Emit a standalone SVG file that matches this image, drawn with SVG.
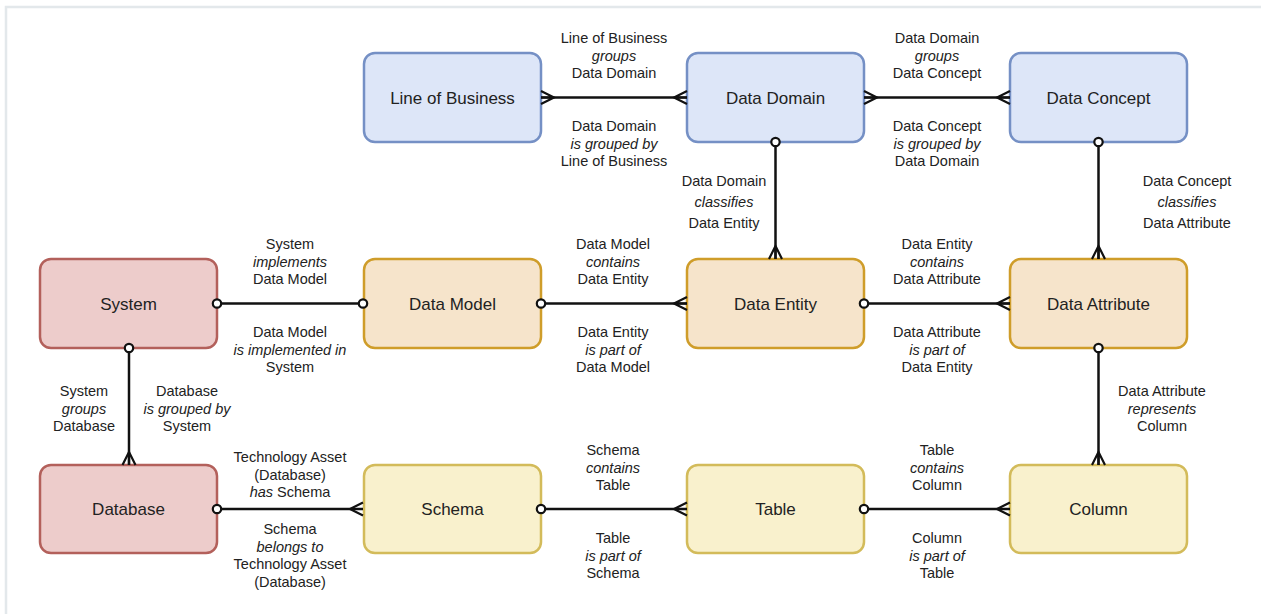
<svg xmlns="http://www.w3.org/2000/svg" width="1261" height="614" viewBox="0 0 1261 614">
<style>
.node rect{stroke-width:2.5}
.blue rect{fill:#dde6f8;stroke:#7590c5}
.red rect{fill:#edcccb;stroke:#b3605b}
.orange rect{fill:#f6e4cb;stroke:#cf9d2a}
.yellow rect{fill:#f9f1cd;stroke:#d3bb5a}
.nl{font-family:"Liberation Sans",Arial,sans-serif;font-size:17px;fill:#222;text-anchor:middle}
.el{font-family:"Liberation Sans",Arial,sans-serif;font-size:14.5px;fill:#222;text-anchor:middle}
.it{font-style:italic}
.conn path{fill:none;stroke:#111;stroke-width:2.5}
</style>
<defs>
<marker id="many" viewBox="-16 -10 20 20" refX="0" refY="0" markerWidth="20" markerHeight="20" markerUnits="userSpaceOnUse" orient="auto-start-reverse">
<path d="M0,-6.5 L-13,0 L0,6.5 M-13,0 L0,0" fill="none" stroke="#111" stroke-width="2.2"/>
</marker>
<marker id="one" viewBox="-8 -8 16 16" refX="0" refY="0" markerWidth="16" markerHeight="16" markerUnits="userSpaceOnUse" orient="auto">
<circle cx="0" cy="0" r="4.2" fill="#fff" stroke="#111" stroke-width="2.2"/>
</marker>
</defs>
<rect x="6" y="7" width="1300" height="700" fill="#fff" stroke="#e3e8eb" stroke-width="2.5"/>

<g id="lineOfBusiness" class="node blue"><rect x="364" y="53" width="177" height="89" rx="11"/><text class="nl" x="452.5" y="103.5">Line of Business</text></g>
<g id="dataDomain" class="node blue"><rect x="687" y="53" width="177" height="89" rx="11"/><text class="nl" x="775.5" y="103.5">Data Domain</text></g>
<g id="dataConcept" class="node blue"><rect x="1010" y="53" width="177" height="89" rx="11"/><text class="nl" x="1098.5" y="103.5">Data Concept</text></g>

<g id="system" class="node red"><rect x="40" y="259" width="177" height="89" rx="11"/><text class="nl" x="128.5" y="309.5">System</text></g>
<g id="dataModel" class="node orange"><rect x="364" y="259" width="177" height="89" rx="11"/><text class="nl" x="452.5" y="309.5">Data Model</text></g>
<g id="dataEntity" class="node orange"><rect x="687" y="259" width="177" height="89" rx="11"/><text class="nl" x="775.5" y="309.5">Data Entity</text></g>
<g id="dataAttribute" class="node orange"><rect x="1010" y="259" width="177" height="89" rx="11"/><text class="nl" x="1098.5" y="309.5">Data Attribute</text></g>

<g id="database" class="node red"><rect x="40" y="465" width="177" height="88" rx="11"/><text class="nl" x="128.5" y="515">Database</text></g>
<g id="schema" class="node yellow"><rect x="364" y="465" width="177" height="88" rx="11"/><text class="nl" x="452.5" y="515">Schema</text></g>
<g id="table" class="node yellow"><rect x="687" y="465" width="177" height="88" rx="11"/><text class="nl" x="775.5" y="515">Table</text></g>
<g id="column" class="node yellow"><rect x="1010" y="465" width="177" height="88" rx="11"/><text class="nl" x="1098.5" y="515">Column</text></g>

<g id="connectors" class="conn">
<path d="M541,97.5 H687" marker-start="url(#many)" marker-end="url(#many)"/>
<path d="M864,97.5 H1010" marker-start="url(#many)" marker-end="url(#many)"/>
<path d="M775.5,142 V259" marker-start="url(#one)" marker-end="url(#many)"/>
<path d="M1098.5,142 V259" marker-start="url(#one)" marker-end="url(#many)"/>
<path d="M217,303.5 H363" marker-start="url(#one)" marker-end="url(#one)"/>
<path d="M541,303.5 H687" marker-start="url(#one)" marker-end="url(#many)"/>
<path d="M864,303.5 H1010" marker-start="url(#one)" marker-end="url(#many)"/>
<path d="M129,348 V465" marker-start="url(#one)" marker-end="url(#many)"/>
<path d="M1098.5,348 V465" marker-start="url(#one)" marker-end="url(#many)"/>
<path d="M217,509 H363" marker-start="url(#one)" marker-end="url(#many)"/>
<path d="M541,509 H687" marker-start="url(#one)" marker-end="url(#many)"/>
<path d="M864,509 H1010" marker-start="url(#one)" marker-end="url(#many)"/>
</g>

<g id="labels">
<text class="el"><tspan x="614" y="43">Line of Business</tspan><tspan x="614" y="61" class="it">groups</tspan><tspan x="614" y="78">Data Domain</tspan></text>
<text class="el"><tspan x="614" y="131">Data Domain</tspan><tspan x="614" y="149" class="it">is grouped by</tspan><tspan x="614" y="166">Line of Business</tspan></text>
<text class="el"><tspan x="937" y="43">Data Domain</tspan><tspan x="937" y="61" class="it">groups</tspan><tspan x="937" y="78">Data Concept</tspan></text>
<text class="el"><tspan x="937" y="131">Data Concept</tspan><tspan x="937" y="149" class="it">is grouped by</tspan><tspan x="937" y="166">Data Domain</tspan></text>
<text class="el"><tspan x="724" y="186">Data Domain</tspan><tspan x="724" y="207" class="it">classifies</tspan><tspan x="724" y="228">Data Entity</tspan></text>
<text class="el"><tspan x="1187" y="186">Data Concept</tspan><tspan x="1187" y="207" class="it">classifies</tspan><tspan x="1187" y="228">Data Attribute</tspan></text>

<text class="el"><tspan x="290" y="249">System</tspan><tspan x="290" y="267" class="it">implements</tspan><tspan x="290" y="284">Data Model</tspan></text>
<text class="el"><tspan x="290" y="337">Data Model</tspan><tspan x="290" y="355" class="it">is implemented in</tspan><tspan x="290" y="372">System</tspan></text>
<text class="el"><tspan x="613" y="249">Data Model</tspan><tspan x="613" y="267" class="it">contains</tspan><tspan x="613" y="284">Data Entity</tspan></text>
<text class="el"><tspan x="613" y="337">Data Entity</tspan><tspan x="613" y="355" class="it">is part of</tspan><tspan x="613" y="372">Data Model</tspan></text>
<text class="el"><tspan x="937" y="249">Data Entity</tspan><tspan x="937" y="267" class="it">contains</tspan><tspan x="937" y="284">Data Attribute</tspan></text>
<text class="el"><tspan x="937" y="337">Data Attribute</tspan><tspan x="937" y="355" class="it">is part of</tspan><tspan x="937" y="372">Data Entity</tspan></text>

<text class="el"><tspan x="84" y="396">System</tspan><tspan x="84" y="414" class="it">groups</tspan><tspan x="84" y="431">Database</tspan></text>
<text class="el"><tspan x="187" y="396">Database</tspan><tspan x="187" y="414" class="it">is grouped by</tspan><tspan x="187" y="431">System</tspan></text>
<text class="el"><tspan x="1162" y="396">Data Attribute</tspan><tspan x="1162" y="414" class="it">represents</tspan><tspan x="1162" y="431">Column</tspan></text>

<text class="el"><tspan x="290" y="462">Technology Asset</tspan><tspan x="290" y="480">(Database)</tspan><tspan x="290" y="497"><tspan class="it">has</tspan> Schema</tspan></text>
<text class="el"><tspan x="290" y="534">Schema</tspan><tspan x="290" y="552" class="it">belongs to</tspan><tspan x="290" y="569">Technology Asset</tspan><tspan x="290" y="587">(Database)</tspan></text>
<text class="el"><tspan x="613" y="455">Schema</tspan><tspan x="613" y="473" class="it">contains</tspan><tspan x="613" y="490">Table</tspan></text>
<text class="el"><tspan x="613" y="543">Table</tspan><tspan x="613" y="561" class="it">is part of</tspan><tspan x="613" y="578">Schema</tspan></text>
<text class="el"><tspan x="937" y="455">Table</tspan><tspan x="937" y="473" class="it">contains</tspan><tspan x="937" y="490">Column</tspan></text>
<text class="el"><tspan x="937" y="543">Column</tspan><tspan x="937" y="561" class="it">is part of</tspan><tspan x="937" y="578">Table</tspan></text>
</g>
</svg>
